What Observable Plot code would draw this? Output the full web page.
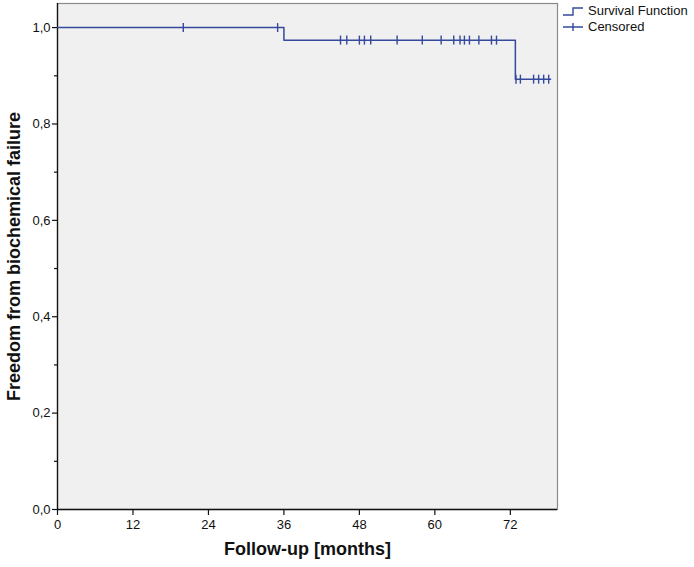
<!DOCTYPE html>
<html>
<head>
<meta charset="utf-8">
<script src="https://cdn.jsdelivr.net/npm/d3@7"></script>
<script src="https://cdn.jsdelivr.net/npm/@observablehq/plot@0.6"></script>
<style>
  html, body { margin: 0; padding: 0; background: #fff; }
  #wrap { position: relative; width: 694px; height: 567px; font-family: "Liberation Sans", Arial, sans-serif; }
  #legend { position: absolute; left: 562px; top: 3px; font-size: 13px; color: #111; line-height: 16px; }
  #legend div { display: flex; align-items: center; height: 16px; }
  #legend svg { margin-right: 4px; }
</style>
</head>
<body>
<div id="wrap">
  <div id="chart"></div>
  <div id="legend">
    <div><svg width="22" height="14"><path d="M1,11 H11 V4 H21" fill="none" stroke="#34499c" stroke-width="1.4"/></svg>Survival Function</div>
    <div><svg width="22" height="14"><path d="M1,7 H21 M11,3 V11" fill="none" stroke="#34499c" stroke-width="1.4"/></svg>Censored</div>
  </div>
</div>
<script>
// Kaplan–Meier step data (time in months, survival proportion)
const stepTimes = [0, 36, 72.8, 78.4];
const stepSurvival = [1.0, 0.974, 0.893, 0.893];
// Censored observation times (months)
const censoredTimes = [20, 35, 45, 46, 48, 48.8, 49.8, 54, 58, 61, 63, 64, 64.7, 65.5, 67, 69, 69.8, 72.9, 73.6, 75.7, 76.5, 77.3, 78.1];
// Axis ticks
const xTicks = [0, 12, 24, 36, 48, 60, 72];
const yMajorTicks = [0, 0.2, 0.4, 0.6, 0.8, 1.0];
const yMinorTicks = [0.1, 0.3, 0.5, 0.7, 0.9];

const steps = stepTimes.map((t, i) => ({t, s: stepSurvival[i]}));
function survivalAt(t) {
  let s = stepSurvival[0];
  for (let i = 0; i < stepTimes.length; i++) if (stepTimes[i] <= t) s = stepSurvival[i];
  return s;
}
const censored = censoredTimes.map(t => ({t, s: survivalAt(t)}));

const vbar = { draw(context) { context.moveTo(0, -4.5); context.lineTo(0, 4.5); } };
const lineColor = "#34499c";

const chart = Plot.plot({
  width: 694,
  height: 567,
  marginLeft: 57,
  marginRight: 137,
  marginTop: 3,
  marginBottom: 58,
  style: { fontFamily: "Liberation Sans, Arial, sans-serif", fontSize: "13px", color: "#111", background: "#fff" },
  x: { domain: [0, 79.5] },
  y: { domain: [0, 1.05] },
  marks: [
    Plot.frame({ fill: "#f0f0f0", stroke: "#8a8a8a", strokeWidth: 1.2 }),
    Plot.axisX({ ticks: xTicks, tickSize: 6, tickPadding: 4, label: null, stroke: "#111", strokeWidth: 1.2 }),
    Plot.axisY({ ticks: yMajorTicks, tickSize: 5, tickPadding: 2, label: null, tickFormat: d => d.toFixed(1).replace(".", ","), stroke: "#111", strokeWidth: 1.2 }),
    Plot.axisY({ ticks: yMinorTicks, tickSize: 3, label: null, tickFormat: () => "", stroke: "#111", strokeWidth: 1.2 }),
    Plot.ruleX([0], { stroke: "#111", strokeWidth: 1.3 }),
    Plot.ruleY([0], { stroke: "#111", strokeWidth: 1.3 }),
    Plot.line(steps, { x: "t", y: "s", curve: "step-after", stroke: lineColor, strokeWidth: 1.5 }),
    Plot.dot(censored, { x: "t", y: "s", symbol: vbar, r: 4, stroke: lineColor, strokeWidth: 1.4, fill: "none" }),
    Plot.text(["Follow-up [months]"], { frameAnchor: "bottom", dy: 45, fontWeight: "bold", fontSize: 18, fill: "#111" }),
    Plot.text(["Freedom from biochemical failure"], { frameAnchor: "left", dx: -43, rotate: -90, textAnchor: "middle", fontWeight: "bold", fontSize: 18, fill: "#111" })
  ]
});
document.getElementById("chart").appendChild(chart);
</script>
</body>
</html>
